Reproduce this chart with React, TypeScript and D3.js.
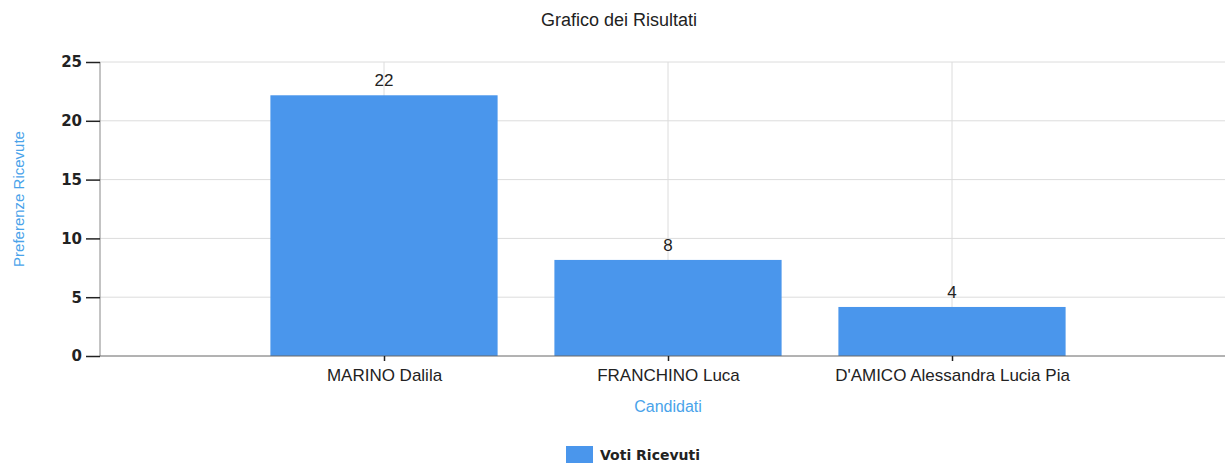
import React, { useEffect, useRef } from "react";
import * as d3 from "d3";

const categories = ["MARINO Dalila", "FRANCHINO Luca", "D'AMICO Alessandra Lucia Pia"];
const votes = [22, 8, 4];
const yTicks = [0, 5, 10, 15, 20, 25];

const BAR_COLOR = "#4a96ec";
const AXIS_BLUE = "#4aa3ea";

const App = () => {
  const chartRef = useRef<SVGSVGElement>(null);

  useEffect(() => {
    drawChart();
  }, []);

  const drawChart = () => {
    const width = 1225;
    const height = 463;
    const margin = { top: 62, left: 100, bottom: 108 };
    const plotBottom = height - margin.bottom + 1;

    const svg = d3.select(chartRef.current);
    svg.selectAll("*").remove();

    // categories sit at 1, 2, 3 on a 0..4 axis (right end is cropped)
    const x = d3.scaleLinear().domain([0, 4]).range([margin.left, 1236]);
    const step = x(1) - x(0);
    const barWidth = step * 0.8;

    const y = d3.scaleLinear().domain([0, 25]).range([plotBottom, margin.top]);

    // Grid
    svg
      .append("g")
      .selectAll("line")
      .data(yTicks.slice(1))
      .enter()
      .append("line")
      .attr("x1", margin.left)
      .attr("x2", width)
      .attr("y1", (d) => y(d))
      .attr("y2", (d) => y(d))
      .attr("stroke", "#dcdcdc")
      .attr("stroke-width", 1);

    svg
      .append("g")
      .selectAll("line")
      .data(categories)
      .enter()
      .append("line")
      .attr("x1", (d, i) => x(i + 1))
      .attr("x2", (d, i) => x(i + 1))
      .attr("y1", y(25))
      .attr("y2", plotBottom)
      .attr("stroke", "#dcdcdc")
      .attr("stroke-width", 1);

    // Bars
    svg
      .append("g")
      .selectAll("rect")
      .data(votes)
      .enter()
      .append("rect")
      .attr("x", (d, i) => x(i + 1) - barWidth / 2)
      .attr("y", (d) => y(d) - 2)
      .attr("width", barWidth)
      .attr("height", (d) => plotBottom - y(d) + 2)
      .attr("fill", BAR_COLOR);

    // Value labels
    svg
      .append("g")
      .selectAll("text")
      .data(votes)
      .enter()
      .append("text")
      .attr("x", (d, i) => x(i + 1))
      .attr("y", (d) => y(d) - 11)
      .attr("text-anchor", "middle")
      .attr("font-family", "Liberation Sans, Arial, sans-serif")
      .attr("font-size", 17)
      .attr("fill", "#222")
      .text((d) => d);

    // Y axis
    const yAxis = svg
      .append("g")
      .attr("transform", `translate(${margin.left},0)`)
      .call(d3.axisLeft(y).tickValues(yTicks).tickSize(14).tickPadding(4));
    yAxis.select(".domain").attr("stroke", "#888").attr("d", `M0,${y(25)}V${plotBottom}`);
    yAxis.selectAll(".tick line").attr("stroke", "#222").attr("stroke-width", 1.5);
    yAxis
      .selectAll(".tick text")
      .attr("font-family", "DejaVu Sans, Verdana, sans-serif")
      .attr("font-weight", "bold")
      .attr("font-size", 15)
      .attr("fill", "#222");

    // X axis
    const xAxis = svg
      .append("g")
      .attr("transform", `translate(0,${plotBottom})`)
      .call(
        d3
          .axisBottom(x)
          .tickValues([1, 2, 3])
          .tickFormat((d) => categories[(d as number) - 1])
          .tickSize(5)
          .tickPadding(8)
      );
    xAxis.select(".domain").attr("stroke", "#666").attr("d", `M${margin.left},0H${width}`);
    xAxis.selectAll(".tick line").attr("stroke", "#222").attr("stroke-width", 1.5);
    xAxis
      .selectAll(".tick text")
      .attr("font-family", "Liberation Sans, Arial, sans-serif")
      .attr("font-size", 17)
      .attr("fill", "#222");

    // Titles
    svg
      .append("text")
      .attr("x", 619)
      .attr("y", 26)
      .attr("text-anchor", "middle")
      .attr("font-family", "Liberation Sans, Arial, sans-serif")
      .attr("font-size", 18)
      .attr("fill", "#222")
      .text("Grafico dei Risultati");

    svg
      .append("text")
      .attr("x", x(2))
      .attr("y", 412)
      .attr("text-anchor", "middle")
      .attr("font-family", "Liberation Sans, Arial, sans-serif")
      .attr("font-size", 16)
      .attr("fill", AXIS_BLUE)
      .text("Candidati");

    svg
      .append("text")
      .attr("transform", `translate(24,${(y(25) + plotBottom) / 2 - 10}) rotate(-90)`)
      .attr("text-anchor", "middle")
      .attr("font-family", "Liberation Sans, Arial, sans-serif")
      .attr("font-size", 15)
      .attr("fill", AXIS_BLUE)
      .text("Preferenze Ricevute");

    // Legend
    const legend = svg.append("g").attr("transform", "translate(566,446)");
    legend.append("rect").attr("width", 27).attr("height", 17).attr("fill", BAR_COLOR);
    legend
      .append("text")
      .attr("x", 34)
      .attr("y", 14)
      .attr("font-family", "DejaVu Sans, Verdana, sans-serif")
      .attr("font-weight", "bold")
      .attr("font-size", 14)
      .attr("fill", "#222")
      .text("Voti Ricevuti");
  };

  return (
    <div style={{ position: "absolute", left: 0, top: 0 }}>
      <svg ref={chartRef} width={1225} height={463} style={{ display: "block", background: "#fff" }}></svg>
    </div>
  );
};

export default App;
